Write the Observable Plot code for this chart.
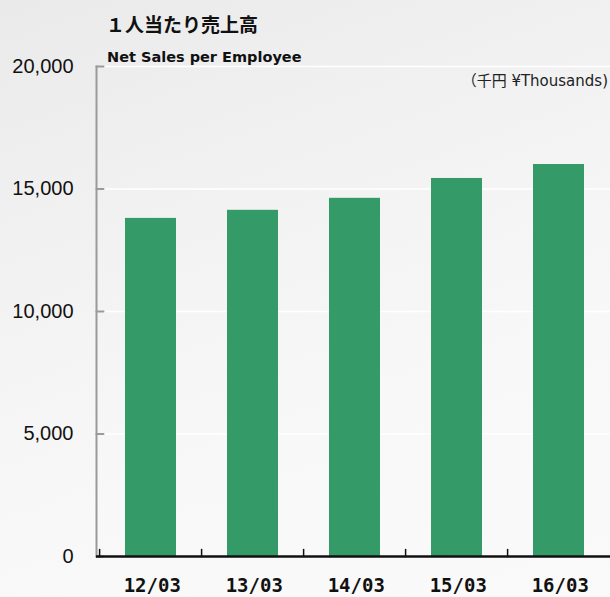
<!DOCTYPE html>
<html>
<head>
<meta charset="utf-8">
<script src="https://cdn.jsdelivr.net/npm/d3@7"></script>
<script src="https://cdn.jsdelivr.net/npm/@observablehq/plot@0.6"></script>
<style>
  html, body { margin: 0; padding: 0; }
  body { width: 610px; height: 597px; overflow: hidden;
    background: linear-gradient(160deg, #eaeaea 0%, #f2f2f2 35%, #f8f8f8 65%, #fafafa 100%); }
  #wrap { position: relative; width: 610px; height: 597px; }
  .t { position: absolute; white-space: nowrap; color: #111; }
  #title { left: 106px; top: 10px; font: bold 19px "Noto Sans CJK JP", sans-serif; }
  #sub { left: 107px; top: 49px; font: bold 14.5px "DejaVu Sans", sans-serif; }
  #unit { right: 2px; top: 69px; font: 15px "DejaVu Sans", "Noto Sans CJK JP", sans-serif; color: #222; }
  svg { position: absolute; left: 0; top: 0; background: transparent !important; }
</style>
</head>
<body>
<div id="wrap">
  <div class="t" id="title">１人当たり売上高</div>
  <div class="t" id="sub">Net Sales per Employee</div>
  <div class="t" id="unit">（千円 ¥Thousands)</div>
</div>
<script>
const categories = ["12/03", "13/03", "14/03", "15/03", "16/03"];
const values = [13800, 14130, 14620, 15430, 16000];
const yTicks = [0, 5000, 10000, 15000, 20000];

const data = categories.map((c, i) => ({cat: c, value: values[i]}));

const W = 610, H = 597, mL = 96, mR = 0, mT = 66, mB = 41;
const step = (W - mL - mR) / categories.length;

const tickShape = {draw(ctx, l) { ctx.moveTo(0, 0); ctx.lineTo(0, -l); }};

const chart = Plot.plot({
  width: W, height: H,
  marginLeft: mL, marginRight: mR, marginTop: mT, marginBottom: mB,
  style: {background: "transparent", overflow: "visible"},
  x: {domain: categories, paddingInner: 0.5, paddingOuter: 0.25, align: 0.53, label: null},
  y: {domain: [0, 20000], label: null},
  marks: [
    Plot.gridY(yTicks, {stroke: "#ffffff", strokeOpacity: 1, strokeWidth: 1.5}),
    Plot.barY(data, {x: "cat", y: "value", fill: "#349a67"}),
    Plot.frame({anchor: "left", stroke: "#9a9a9a", strokeWidth: 2}),
    Plot.vector(yTicks, {y: d => d, frameAnchor: "left", length: 7, rotate: 90, anchor: "start", shape: tickShape, stroke: "#9a9a9a", strokeWidth: 2}),
    Plot.vector(categories, {x: d => d, y: 0, dx: -step / 2, length: 7, anchor: "start", shape: tickShape, stroke: "#111", strokeWidth: 1.5}),
    Plot.ruleY([0], {stroke: "#111", strokeWidth: 2.5}),
    Plot.axisY(yTicks, {tickSize: 0, tickPadding: 23, tickFormat: d3.format(","), fontSize: 20, fill: "#111", fontFamily: "Liberation Sans, Arial, sans-serif", label: null}),
    Plot.axisX({tickSize: 0, tickPadding: 22, dx: 1.25, fontSize: 19, fontWeight: "bold", fill: "#111", fontFamily: "DejaVu Sans Mono, monospace", label: null, style: "letter-spacing: 2.5px"})
  ]
});
document.getElementById("wrap").prepend(chart);
</script>
</body>
</html>
